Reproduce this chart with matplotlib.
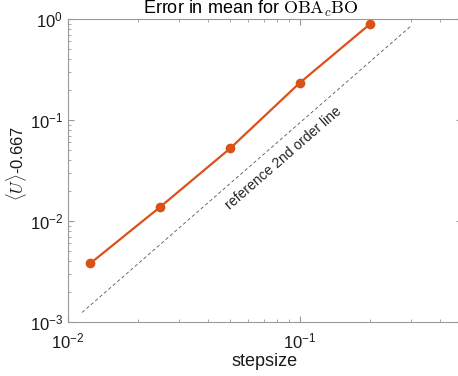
import numpy as np
import matplotlib.pyplot as plt

plt.rcParams['font.family'] = ['Liberation Sans', 'DejaVu Sans']
plt.rcParams['mathtext.fontset'] = 'cm'

# convergence data: step size vs. error in the mean
stepsize = [0.0125, 0.025, 0.05, 0.1, 0.2]
err_mean = [0.00382, 0.0138, 0.0523, 0.234, 0.886]

# second order reference line
ref_h = np.array([0.0115, 0.3])
ref_c = 9.4
ref_err = ref_c * ref_h**2

fig = plt.figure(figsize=(4.58, 3.76), dpi=100)
ax = fig.add_axes([68/458, 1 - 322/376, (462 - 68)/458, (322 - 19)/376])

ax.loglog(stepsize, err_mean, '-o', color='#D95319', lw=1.6, ms=6)
ax.loglog(ref_h, ref_err, '--', color='#555555', lw=0.6, dashes=(4, 3))

ax.text(284/458, 1 - 158/376, 'reference 2nd order line', transform=fig.transFigure,
        rotation=41, ha='center', va='center', fontsize=10, color='#222222')

ax.set_xlim(1e-2, 0.5)
ax.set_ylim(1e-3, 1e0)

for s in ['left', 'bottom', 'top', 'right']:
    ax.spines[s].set_color('#999999')
ax.tick_params(which='both', direction='in', top=True, right=True,
               colors='#999999', labelcolor='#1a1a1a', labelsize=12)
ax.tick_params(which='major', length=4)
ax.tick_params(which='minor', length=2)
ax.tick_params(axis='x', which='major', pad=7)

ax.set_xlabel('stepsize', fontsize=13, color='#1a1a1a', labelpad=1)
ax.set_ylabel(r'$\langle U\rangle$-0.667', fontsize=12, color='#1a1a1a')
ax.yaxis.set_label_coords((29 - 68)/394, (322 - 163)/303)
ax.set_title(r'Error in mean for $\mathrm{OBA}_c\mathrm{BO}$', fontsize=13,
             x=(251 - 68)/(462 - 68), pad=1)

fig.savefig('out.png', dpi=100)
